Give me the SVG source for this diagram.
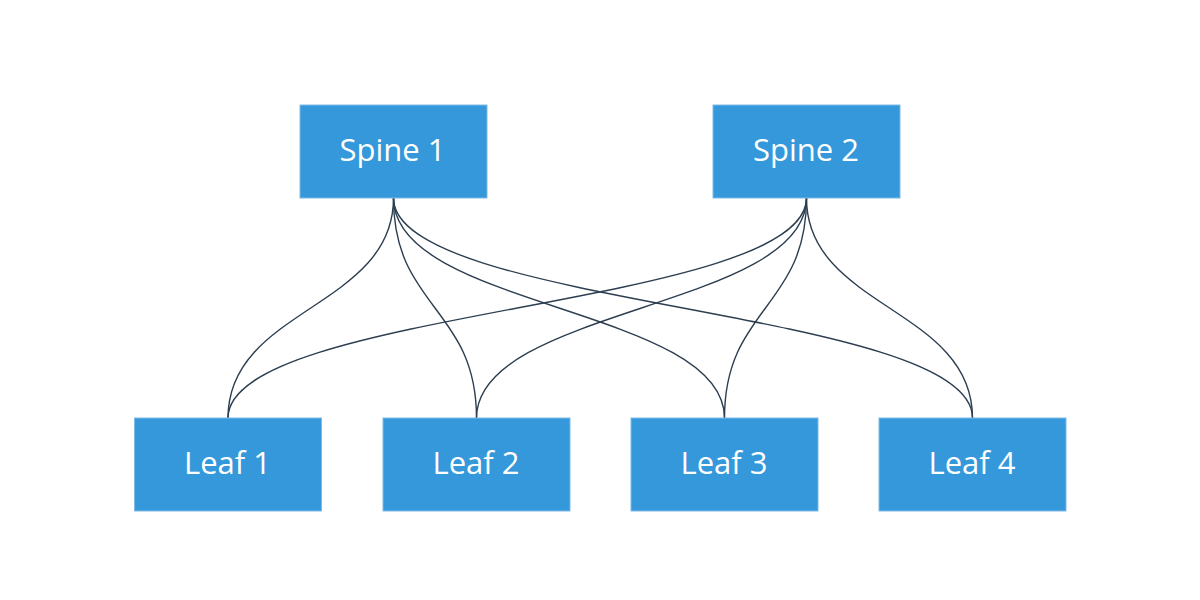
<svg xmlns="http://www.w3.org/2000/svg" width="1200" height="600" viewBox="0 0 1200 600">
<style>
.box{fill:#3498db;stroke:#7fbbe6;stroke-width:1}
.lbl{fill:#ffffff;font-family:"Open Sans","Noto Sans","DejaVu Sans",sans-serif;font-size:31px;text-anchor:middle}
.edge{fill:none;stroke:#2c3e50;stroke-width:1.4}
</style>
<rect width="1200" height="600" fill="#ffffff"/>
<g id="connectors">
<path class="edge" d="M393.5,198 C393.5,308 228,308 228,418"/>
<path class="edge" d="M393.5,198 C393.5,308 476.5,308 476.5,418"/>
<path class="edge" d="M393.5,198 C393.5,308 724.5,308 724.5,418"/>
<path class="edge" d="M393.5,198 C393.5,308 972.5,308 972.5,418"/>
<path class="edge" d="M806.5,198 C806.5,308 228,308 228,418"/>
<path class="edge" d="M806.5,198 C806.5,308 476.5,308 476.5,418"/>
<path class="edge" d="M806.5,198 C806.5,308 724.5,308 724.5,418"/>
<path class="edge" d="M806.5,198 C806.5,308 972.5,308 972.5,418"/>
</g>
<g id="spine1"><rect class="box" x="300" y="105" width="187" height="93"/><text class="lbl" x="392.5" y="160.5">Spine 1</text></g>
<g id="spine2"><rect class="box" x="713" y="105" width="187" height="93"/><text class="lbl" x="806" y="160.5">Spine 2</text></g>
<g id="leaf1"><rect class="box" x="134.5" y="418" width="187" height="93"/><text class="lbl" x="227.5" y="473.5">Leaf 1</text></g>
<g id="leaf2"><rect class="box" x="383" y="418" width="187" height="93"/><text class="lbl" x="476" y="473.5">Leaf 2</text></g>
<g id="leaf3"><rect class="box" x="631" y="418" width="187" height="93"/><text class="lbl" x="724" y="473.5">Leaf 3</text></g>
<g id="leaf4"><rect class="box" x="879" y="418" width="187" height="93"/><text class="lbl" x="972" y="473.5">Leaf 4</text></g>
</svg>
